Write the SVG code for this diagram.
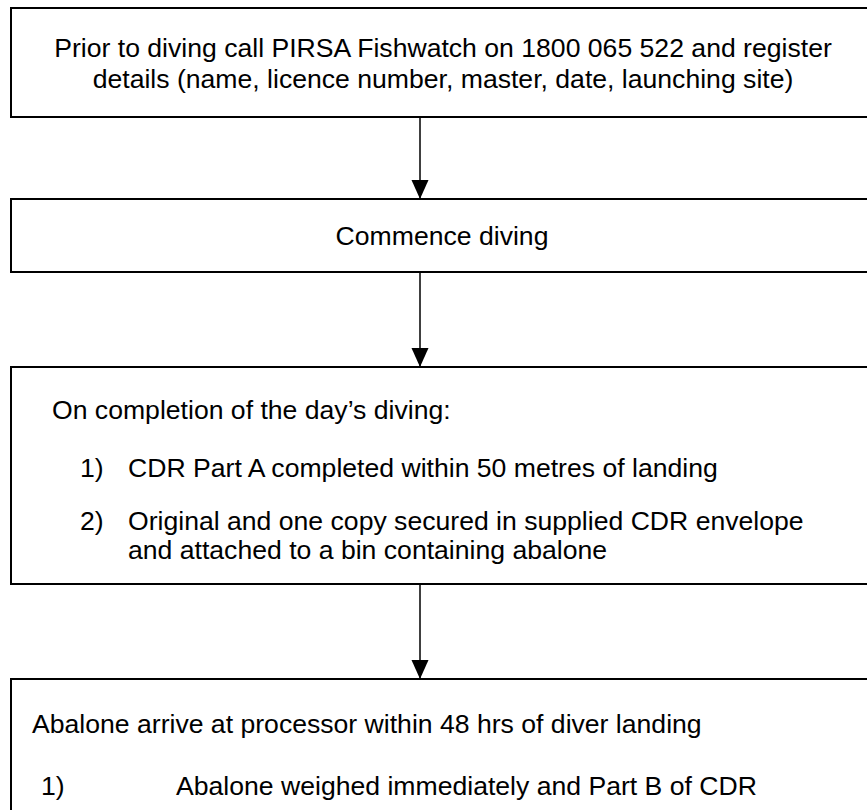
<svg xmlns="http://www.w3.org/2000/svg" width="867" height="810" viewBox="0 0 867 810">
<style>
.box{fill:#fff;stroke:#000;stroke-width:2}
.t{font-family:"Liberation Sans",Arial,sans-serif;font-size:26.6px;fill:#000}
.c{text-anchor:middle}
.con{stroke:#000;stroke-width:1.5;fill:none}
</style>
<defs>
<marker id="ah" markerWidth="20" markerHeight="20" refX="19" refY="8.5" orient="auto" markerUnits="userSpaceOnUse">
<path d="M0,0 L19,8.5 L0,17 Z" fill="#000"/>
</marker>
</defs>
<rect width="867" height="810" fill="#fff"/>
<g id="n1">
<rect class="box" x="11" y="8" width="870" height="109"/>
<text class="t c" x="443" y="57">Prior to diving call PIRSA Fishwatch on 1800 065 522 and register</text>
<text class="t c" x="443" y="88">details (name, licence number, master, date, launching site)</text>
</g>
<g id="n2">
<rect class="box" x="11" y="199" width="870" height="73"/>
<text class="t c" x="442" y="245">Commence diving</text>
</g>
<g id="n3">
<rect class="box" x="11" y="367" width="870" height="217"/>
<text class="t" x="52" y="419">On completion of the day’s diving:</text>
<text class="t" x="80" y="477">1)</text>
<text class="t" x="128" y="477">CDR Part A completed within 50 metres of landing</text>
<text class="t" x="80" y="530">2)</text>
<text class="t" x="128" y="530">Original and one copy secured in supplied CDR envelope</text>
<text class="t" x="128" y="559">and attached to a bin containing abalone</text>
</g>
<g id="n4">
<rect class="box" x="11" y="679" width="870" height="150"/>
<text class="t" x="32" y="733">Abalone arrive at processor within 48 hrs of diver landing</text>
<text class="t" x="41" y="795">1)</text>
<text class="t" x="176" y="795">Abalone weighed immediately and Part B of CDR</text>
</g>
<g id="connectors">
<line class="con" x1="420" y1="117" x2="420" y2="199" marker-end="url(#ah)"/>
<line class="con" x1="420" y1="272" x2="420" y2="367" marker-end="url(#ah)"/>
<line class="con" x1="420" y1="584" x2="420" y2="679" marker-end="url(#ah)"/>
</g>
</svg>
